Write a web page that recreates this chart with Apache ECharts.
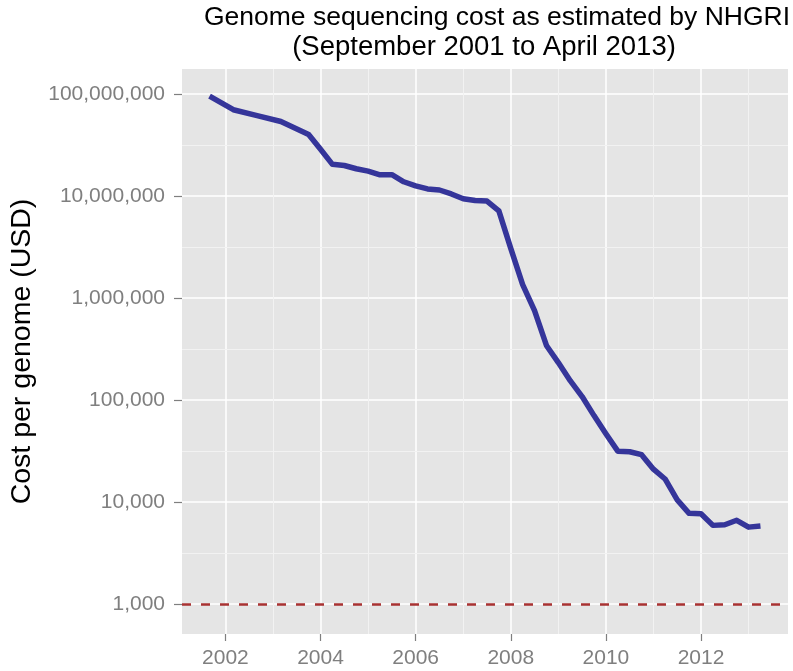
<!DOCTYPE html>
<html>
<head>
<meta charset="utf-8">
<script src="https://cdn.jsdelivr.net/npm/echarts@6/dist/echarts.min.js"></script>
<style>
  html, body { margin: 0; padding: 0; background: #fff; }
  #main { width: 793px; height: 671px; }
</style>
</head>
<body>
<div id="main"></div>
<script>
// quarterly NHGRI estimates
var dates = ['2001-09', '2002-03', '2002-09', '2003-03', '2003-10', '2004-01', '2004-04', '2004-07',
  '2004-10', '2005-01', '2005-04', '2005-07', '2005-10', '2006-01', '2006-04', '2006-07', '2006-10',
  '2007-01', '2007-04', '2007-07', '2007-10', '2008-01', '2008-04', '2008-07', '2008-10', '2009-01',
  '2009-04', '2009-07', '2009-10', '2010-01', '2010-04', '2010-07', '2010-10', '2011-01', '2011-04',
  '2011-07', '2011-10', '2012-01', '2012-04', '2012-07', '2012-10', '2013-01', '2013-04'];
var costPerGenome = [95263072, 70175437, 61448422, 53751684, 40153833, 28780376, 20442576, 19934346,
  18519312, 17534970, 16159699, 16180224, 13801124, 12585659, 11732535, 11455315, 10474556,
  9408739, 9047003, 8927342, 7147571, 3063820, 1352982, 752080, 342502, 232735,
  154714, 108065, 70333, 46774, 31512, 31125, 29092, 20963, 16712,
  10497, 7743, 7666, 5901, 5985, 6618, 5671, 5826];

var yBreaks = [1000, 10000, 100000, 1000000, 10000000, 100000000];
var yMinorBreaks = [3162.28, 31622.8, 316228, 3162280, 31622800];
var xBreaks = [2002, 2004, 2006, 2008, 2010, 2012];
var xMinorBreaks = [2003, 2005, 2007, 2009, 2011, 2013];
var reference = 1000;

function toYear(s) {
  var p = s.split('-');
  return +p[0] + (+p[1] - 1) / 12;
}
var pts = dates.map(function (d, i) { return [toYear(d), costPerGenome[i]]; });
var x0 = pts[0][0], x1 = pts[pts.length - 1][0];
var pad = (x1 - x0) * 0.05;

function comma(v) {
  return Math.round(v).toString().replace(/\B(?=(\d{3})+(?!\d))/g, ',');
}

var font = '"Liberation Sans", Arial, Helvetica, sans-serif';
var myChart = echarts.init(document.getElementById('main'));

var major = { color: '#ffffff', width: 1.5, type: 'solid' };
var minor = { color: '#f2f2f2', width: 1, type: 'solid' };
var gridMarks = [];
yBreaks.forEach(function (v) { gridMarks.push({ yAxis: v, lineStyle: major }); });
xBreaks.forEach(function (v) { gridMarks.push({ xAxis: v, lineStyle: major }); });
yMinorBreaks.forEach(function (v) { gridMarks.push({ yAxis: v, lineStyle: minor }); });
xMinorBreaks.forEach(function (v) { gridMarks.push({ xAxis: v, lineStyle: minor }); });

var option = {
  animation: false,
  backgroundColor: '#ffffff',
  title: [
    {
      text: 'Genome sequencing cost as estimated by NHGRI',
      left: 497, top: 4, padding: 0, textAlign: 'center',
      textStyle: { fontFamily: font, fontSize: 26.5, fontWeight: 'normal', color: '#000' }
    },
    {
      text: '(September 2001 to April 2013)',
      left: 484, top: 33, padding: 0, textAlign: 'center',
      textStyle: { fontFamily: font, fontSize: 27.5, fontWeight: 'normal', color: '#000' }
    }
  ],
  grid: {
    left: 181, right: 5, top: 69, bottom: 37,
    show: true, backgroundColor: '#e5e5e5', borderWidth: 0
  },
  xAxis: {
    type: 'value',
    min: x0 - pad,
    max: x1 + pad,
    axisLine: { show: false },
    splitLine: { show: false },
    axisTick: { show: true, length: 7, customValues: xBreaks, lineStyle: { color: '#7f7f7f', width: 1.2 } },
    axisLabel: {
      customValues: xBreaks, margin: 14,
      fontFamily: font, fontSize: 21, color: '#7f7f7f',
      formatter: function (v) { return String(Math.round(v)); }
    }
  },
  yAxis: {
    type: 'log',
    logBase: 10,
    min: 508,
    max: 176000000,
    name: 'Cost per genome (USD)',
    nameLocation: 'middle',
    nameGap: 145,
    nameTextStyle: { fontFamily: font, fontSize: 28.5, color: '#000' },
    axisLine: { show: false },
    splitLine: { show: false },
    axisTick: { show: true, length: 8, customValues: yBreaks, lineStyle: { color: '#7f7f7f', width: 1.2 } },
    axisLabel: {
      customValues: yBreaks, margin: 17,
      fontFamily: font, fontSize: 21, color: '#7f7f7f',
      formatter: function (v) { return comma(v); }
    }
  },
  series: [
    {
      name: 'grid',
      type: 'line',
      data: [],
      silent: true,
      markLine: {
        silent: true, z: 1, animation: false,
        symbol: ['none', 'none'],
        label: { show: false },
        lineStyle: { type: 'solid' },
        data: gridMarks
      }
    },
    {
      name: 'reference',
      type: 'line',
      data: [],
      silent: true,
      markLine: {
        silent: true, z: 2, animation: false,
        symbol: ['none', 'none'],
        label: { show: false },
        lineStyle: { color: '#a83232', width: 2.5, type: [9, 10] },
        data: [{ yAxis: reference }]
      }
    },
    {
      name: 'cost',
      type: 'line',
      z: 4,
      data: pts,
      showSymbol: false,
      symbol: 'none',
      lineStyle: { color: '#35359a', width: 5.5, join: 'round', cap: 'butt' }
    }
  ]
};

myChart.setOption(option);
</script>
</body>
</html>
